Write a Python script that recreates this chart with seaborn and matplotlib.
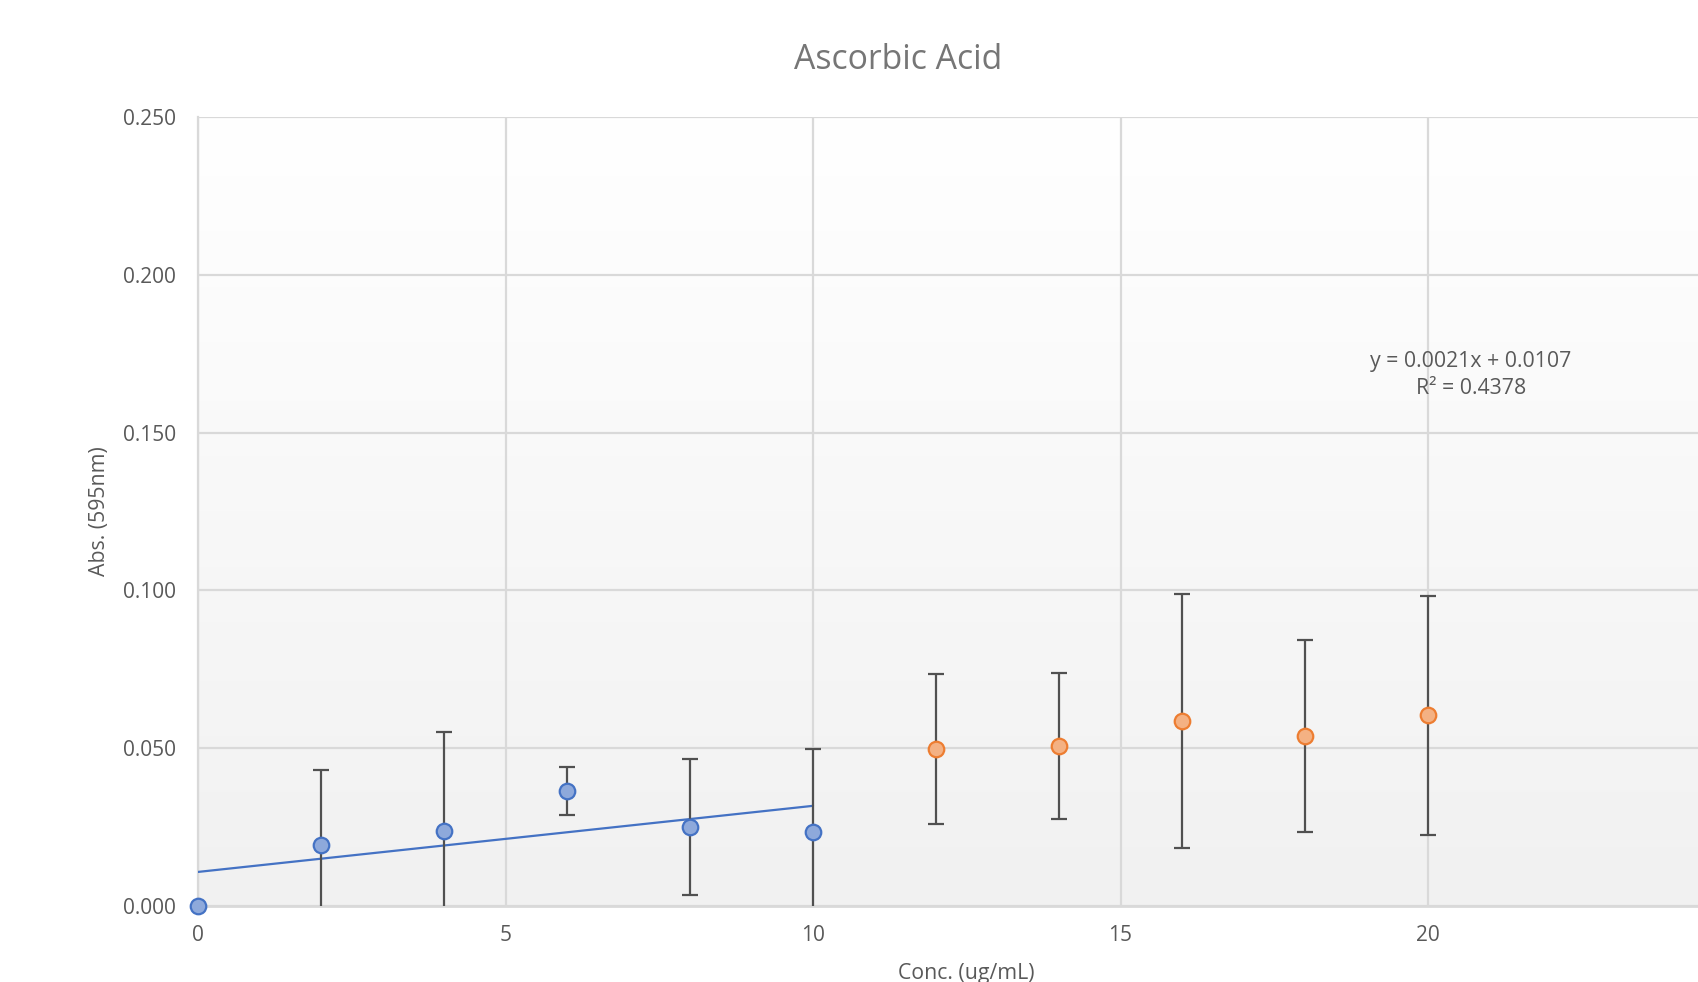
import numpy as np
import pandas as pd
import matplotlib
matplotlib.use("Agg")
import matplotlib.pyplot as plt
from matplotlib.colors import LinearSegmentedColormap
import seaborn as sns

# ---- data ----
conc_low = [0, 2, 4, 6, 8, 10]
abs_low = [0.000, 0.0192, 0.0237, 0.0364, 0.0250, 0.0233]
err_low = [0.000, 0.0240, 0.0315, 0.0075, 0.0216, 0.0264]

conc_high = [12, 14, 16, 18, 20]
abs_high = [0.0497, 0.0508, 0.0586, 0.0538, 0.0604]
err_high = [0.0238, 0.0231, 0.0403, 0.0305, 0.0378]

x_ticks = [0, 5, 10, 15, 20]
y_ticks = [0.0, 0.05, 0.10, 0.15, 0.20, 0.25]
title = "Ascorbic Acid"
xlabel = "Conc. (ug/mL)"
ylabel = "Abs. (595nm)"
eq_text = "y = 0.0021x + 0.0107\nR² = 0.4378"

sns.set_theme(style="white")
plt.rcParams['font.family'] = ['Open Sans', 'DejaVu Sans']

W, H = 1698, 982
fig = plt.figure(figsize=(W / 100, H / 100), dpi=100)
left, right = 198 / W, 1.0
top, bottom = 1 - 117 / H, 1 - 906 / H
ax = fig.add_axes([left, bottom, right - left, top - bottom])

xmax = (W - 198) / 61.5
ax.set_xlim(0, xmax)
ax.set_ylim(0, 0.25)

# background gradient
cmap = LinearSegmentedColormap.from_list("bg", ["#f1f1f1", "#ffffff"])
ax.imshow(np.linspace(0, 1, 256)[:, None][::-1], extent=[0, xmax, 0, 0.25],
          aspect='auto', cmap=cmap, zorder=0, origin='upper')

# grid
ax.set_xticks(x_ticks)
ax.set_yticks(y_ticks)
ax.grid(True, color="#d9d9d9", linewidth=1.6, zorder=1)
ax.set_axisbelow(True)

for s in ["top", "right"]:
    ax.spines[s].set_visible(False)
ax.spines["left"].set_color("#d9d9d9")
ax.spines["left"].set_linewidth(1.6)
ax.spines["bottom"].set_color("#d9d9d9")
ax.spines["bottom"].set_linewidth(2.0)

# trendline
df_low = pd.DataFrame({"conc": conc_low, "abs": abs_low})
sns.regplot(data=df_low, x="conc", y="abs", scatter=False, ci=None,
            truncate=True, ax=ax, line_kws=dict(color="#4472c4", linewidth=1.6, zorder=3))

# error bars
ax.errorbar(conc_low, abs_low, yerr=err_low, fmt="none", ecolor="#505050",
            elinewidth=1.6, capsize=6, capthick=1.6, zorder=4)
ax.errorbar(conc_high, abs_high, yerr=err_high, fmt="none", ecolor="#505050",
            elinewidth=1.6, capsize=6, capthick=1.6, zorder=4)

# points
df_high = pd.DataFrame({"conc": conc_high, "abs": abs_high})
sns.scatterplot(data=df_low, x="conc", y="abs", ax=ax, s=125, color="#8ea9db",
                edgecolor="#4472c4", linewidth=1.6, zorder=5, clip_on=False)
sns.scatterplot(data=df_high, x="conc", y="abs", ax=ax, s=125, color="#f4b183",
                edgecolor="#ed7d31", linewidth=1.6, zorder=5, clip_on=False)

ax.set_xticklabels([str(t) for t in x_ticks])
ax.set_yticklabels([f"{t:.3f}" for t in y_ticks])
ax.tick_params(axis="both", length=0, labelsize=15, colors="#595959")
ax.tick_params(axis="x", pad=14)
ax.tick_params(axis="y", pad=16)

ax.set_xlabel("")
ax.set_ylabel("")
fig.text(966 / W, 1 - 973 / H, xlabel,
         ha="center", va="center", fontsize=15.3, color="#595959")
fig.text(100 / W, 1 - 511 / H, ylabel, rotation=90, ha="center", va="center",
         fontsize=15.3, color="#595959")
fig.text(898 / W, 1 - 60 / H, title, ha="center", va="center",
         fontsize=24.3, color="#767676")

ax.text(20.7, 0.1682, eq_text, ha="center", va="center", fontsize=15.3,
        color="#595959", linespacing=1.4, zorder=6)

fig.savefig("out.png", dpi=100)
